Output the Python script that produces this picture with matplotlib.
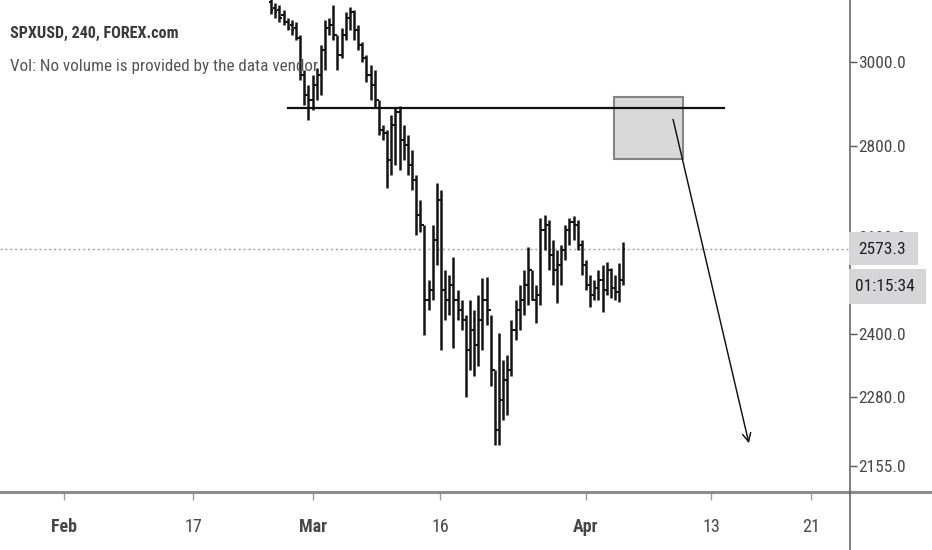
import matplotlib
matplotlib.use("Agg")
import matplotlib.pyplot as plt
from matplotlib.patches import Rectangle
from matplotlib.lines import Line2D
from matplotlib import font_manager
import numpy as np

# pick a narrow sans if one is installed, else Liberation Sans at reduced sizes
_names = {f.name for f in font_manager.fontManager.ttflist}
_narrow = next((c for c in ['Liberation Sans Narrow', 'Roboto Condensed',
                            'Open Sans Condensed', 'Noto Sans Condensed',
                            'Arial Narrow'] if c in _names), None)
if _narrow:
    plt.rcParams['font.family'] = [_narrow, 'Liberation Sans', 'DejaVu Sans']
    FS = dict(title=11.6, vol=12.3, ytick=12.5, xtick=13, box=12.5)
else:
    plt.rcParams['font.family'] = ['Liberation Sans', 'DejaVu Sans']
    FS = dict(title=9.6, vol=10.2, ytick=11.3, xtick=11.5, box=11.3)

# ---------------- data ----------------
bar_start = 50          # bar index (3 bars per trading day, day 0 = Feb 3)
bars_per_day = 3
opens = [3151, 3135, 3130, 3117, 3100, 3092, 3084, 3059, 2968, 2920,
         2908, 2944, 2968, 3029, 3084, 3092, 3066, 3016, 3066, 3110,
         3125, 3079, 3041, 3009, 2968, 2944, 2908, 2837, 2830, 2768,
         2849, 2879, 2814, 2803, 2757, 2723, 2646, 2625, 2468, 2488,
         2593, 2679, 2488, 2468, 2498, 2468, 2448, 2428, 2369, 2408,
         2378, 2428, 2468, 2448, 2330, 2218, 2274, 2311, 2330, 2408,
         2448, 2468, 2498, 2529, 2468, 2478, 2614, 2625, 2561, 2529,
         2540, 2571, 2614, 2631, 2625, 2582, 2540, 2498, 2478, 2492,
         2509, 2488, 2529, 2492, 2484, 2509]
highs = [3168, 3148, 3143, 3130, 3110, 3105, 3100, 3066, 2980, 2944,
         2968, 2985, 3041, 3105, 3110, 3143, 3066, 3084, 3125, 3138,
         3130, 3092, 3049, 3016, 2992, 2980, 2908, 2849, 2837, 2872,
         2889, 2894, 2849, 2826, 2791, 2734, 2679, 2625, 2509, 2625,
         2716, 2701, 2529, 2519, 2556, 2488, 2468, 2438, 2468, 2448,
         2478, 2513, 2515, 2438, 2330, 2402, 2349, 2359, 2428, 2468,
         2498, 2529, 2577, 2529, 2498, 2640, 2646, 2635, 2593, 2571,
         2582, 2625, 2640, 2644, 2635, 2593, 2550, 2519, 2509, 2529,
         2540, 2546, 2533, 2519, 2544, 2588]
lows = [3120, 3110, 3100, 3092, 3079, 3066, 3054, 2956, 2896, 2860,
        2884, 2908, 2920, 2980, 3066, 3054, 2980, 3009, 3054, 3079,
        3054, 3029, 2999, 2951, 2908, 2889, 2826, 2814, 2705, 2734,
        2757, 2745, 2768, 2734, 2701, 2603, 2610, 2398, 2448, 2468,
        2540, 2369, 2428, 2438, 2373, 2428, 2408, 2279, 2330, 2320,
        2339, 2369, 2418, 2301, 2191, 2191, 2237, 2246, 2320, 2388,
        2408, 2438, 2458, 2468, 2422, 2458, 2571, 2529, 2498, 2462,
        2498, 2550, 2582, 2593, 2571, 2519, 2488, 2454, 2468, 2468,
        2444, 2478, 2472, 2468, 2464, 2498]
closes = [3130, 3125, 3110, 3100, 3084, 3079, 3059, 2968, 2920, 2908,
          2944, 2968, 3029, 3084, 3092, 3066, 3016, 3066, 3110, 3125,
          3079, 3041, 3009, 2968, 2944, 2908, 2837, 2830, 2768, 2849,
          2879, 2814, 2803, 2757, 2723, 2646, 2625, 2468, 2488, 2593,
          2679, 2488, 2468, 2498, 2468, 2448, 2428, 2369, 2408, 2378,
          2428, 2468, 2448, 2330, 2218, 2274, 2311, 2330, 2408, 2448,
          2468, 2498, 2529, 2468, 2478, 2614, 2625, 2561, 2529, 2540,
          2571, 2614, 2631, 2625, 2582, 2540, 2498, 2478, 2492, 2509,
          2488, 2529, 2492, 2484, 2509, 2573.3]

last_price = 2573.3
countdown = "01:15:34"

ytick_vals = [3000.0, 2800.0, 2600.0, 2400.0, 2280.0, 2155.0]
xtick_pos = [0, 10.38, 20.03, 30.25, 42.0, 52.05, 60.1]
xtick_labels = ["Feb", "17", "Mar", "16", "Apr", "13", "21"]
xtick_bold = [True, False, True, False, True, False, False]

level_price = 2889
level_x = [18.0, 53.1]
zone_x = [44.25, 49.8]
zone_price = [2770, 2915]
arrow_from = (49.0, 2862)
arrow_to = (55.1, 2195)

title = "SPXUSD, 240, FOREX.com"
vol_text = "Vol: No volume is provided by the data vendor"

# ---------------- figure ----------------
W, H = 932, 550
fig = plt.figure(figsize=(W / 100, H / 100), dpi=100)
ax = fig.add_axes([0, (H - 492) / H, 850 / W, 492 / H])
ax.set_yscale('log')
ax.set_xlim(-64 / 12.43, 786 / 12.43)
ax.set_ylim(2109, 3156)

xs = (bar_start + np.arange(len(opens))) / bars_per_day
tw = 0.17
bar_col = '#141414'
ax.vlines(xs, lows, highs, color=bar_col, lw=1.8, zorder=3)
ax.hlines(opens, xs - tw, xs, color=bar_col, lw=1.5, zorder=3)
ax.hlines(closes, xs, xs + tw, color=bar_col, lw=1.5, zorder=3)

# last price dotted line
ax.axhline(last_price, color='#a0a0a0', lw=1.0, ls=(0, (1.5, 2.0)), zorder=1)

# zone rectangle
ax.add_patch(Rectangle((zone_x[0], zone_price[0]), zone_x[1] - zone_x[0],
                       zone_price[1] - zone_price[0], facecolor='#d9d9d9',
                       edgecolor='#858585', lw=1.5, zorder=4))
# horizontal level
ax.plot(level_x, [level_price, level_price], color='#111111', lw=1.6, zorder=5)
# arrow
ax.annotate('', xy=arrow_to, xytext=arrow_from,
            arrowprops=dict(arrowstyle='->', lw=1.05, color='#111111',
                            mutation_scale=15, shrinkA=0, shrinkB=0), zorder=6)

# axes styling
for s in ['top', 'left', 'right', 'bottom']:
    ax.spines[s].set_visible(False)
ax.yaxis.tick_right()
ax.set_yticks(ytick_vals)
ax.set_yticklabels([f"{v:.1f}" for v in ytick_vals])
ax.yaxis.set_minor_locator(matplotlib.ticker.NullLocator())
ax.tick_params(axis='y', which='major', length=5, width=1, color='#555555',
               labelsize=FS['ytick'], labelcolor='#474747', pad=1, direction='out')
ax.set_xticks(xtick_pos)
ax.set_xticklabels(xtick_labels)
for lab, b in zip(ax.get_xticklabels(), xtick_bold):
    if b:
        lab.set_fontweight('bold')
ax.tick_params(axis='x', length=6, width=1, color='#9a9a9a', labelsize=FS['xtick'],
               labelcolor='#474747', pad=12.5)

# axis lines drawn in figure space
fig.add_artist(Line2D([0, 1], [(H - 492) / H] * 2, color='#8c8c8c', lw=2.2,
                      transform=fig.transFigure))
fig.add_artist(Line2D([850 / W] * 2, [0, 1], color='#5a5a5a', lw=1.1,
                      transform=fig.transFigure))

# titles
fig.text(10 / W, 1 - 33 / H, title, fontsize=FS['title'], fontweight='bold',
         color='#3a3a3a', va='center', ha='left')
fig.text(10 / W, 1 - 67 / H, vol_text, fontsize=FS['vol'], color='#555555',
         va='center', ha='left')

# last price boxes
fig.canvas.draw()
ypix = ax.transData.transform((0, last_price))[1]  # from bottom
bx0 = 849 / W
fig.add_artist(Rectangle((bx0, (ypix - 16) / H), 69 / W, 33 / H,
                         transform=fig.transFigure, facecolor='#d6d6d9',
                         edgecolor='none', zorder=10))
fig.text(858 / W, ypix / H, f"{last_price:.1f}", fontsize=FS['box'], color='#1e1e1e',
         va='center', ha='left', zorder=11)
fig.add_artist(Rectangle((bx0, (ypix - 55) / H), 77 / W, 35 / H,
                         transform=fig.transFigure, facecolor='#d6d6d9',
                         edgecolor='none', zorder=10))
fig.text(855 / W, (ypix - 37.5) / H, countdown, fontsize=FS['box'], color='#1e1e1e',
         va='center', ha='left', zorder=11)

fig.savefig("out.png", dpi=100, facecolor='white')
